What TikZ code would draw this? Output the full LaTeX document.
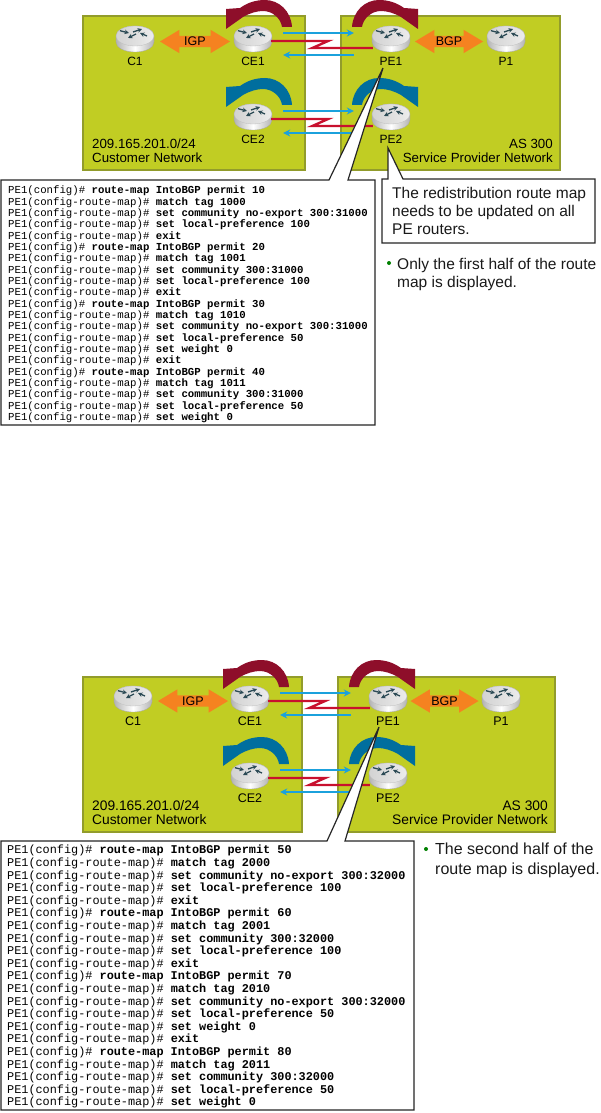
\documentclass[tikz,border=0pt]{standalone}
\usepackage{fontspec}
\setmainfont{Liberation Sans}
\setmonofont{Liberation Mono}
\usepackage{tikz}
\usetikzlibrary{shapes.arrows,arrows.meta,calc}

\definecolor{netolive}{HTML}{C1CD23}
\definecolor{netedge}{HTML}{929C2B}
\definecolor{netorange}{HTML}{F58220}
\definecolor{swirlred}{HTML}{8E0E2A}
\definecolor{swirlblue}{HTML}{006E9E}
\definecolor{linkred}{HTML}{C8102E}
\definecolor{linkblue}{HTML}{1BA1DC}
\definecolor{routerarrow}{HTML}{2B4A55}

% one router: invisible box to connect to, cylinder, arrows on top, caption
\newcommand{\router}[4]{
    \node[routerbox] (#1) at (#2) {};
    \begin{scope}[shift={(#1.center)}]
        \path[left color=gray!60, right color=gray!60, middle color=white, draw=gray!70, line width=0.3pt]
            (-19,-3) -- (-19,3) .. controls (-19,9) and (-10,13) .. (0,13) .. controls (10,13) and (19,9) .. (19,3)
            -- (19,-3) .. controls (19,-9) and (10,-13) .. (0,-13) .. controls (-10,-13) and (-19,-9) .. (-19,-3) -- cycle;
        \path[left color=gray!35, right color=gray!15, draw=gray!50, line width=0.3pt] (0,-3) ellipse [x radius=19pt, y radius=10pt];
        \draw[routertip] (-15,-8.3) -- (-6,-6);
        \draw[routertip] (-2,-7) -- (7,-10);
        \draw[routertip] (12,-3) -- (5,-6);
        \draw[routertip] (1,-5) -- (-7,-1);
    \end{scope}
    \node[#4] (#1lbl) at ($(#1)+(0,22)$) {#3};
}
% the thick bent arrow over a router; #2 is 1 for left, -1 for right
\newcommand{\swirl}[3]{
    \fill[#3, shift={(#1.center)}, xscale=#2] (39,-12) .. controls (38,-28) and (26,-39) .. (12,-39)
        .. controls (2,-39) and (-6,-36) .. (-13,-31) -- (-27,-30) -- (-27,-10) -- (-10,-22)
        .. controls (-3,-26) and (4,-28) .. (10,-28) .. controls (20,-28) and (28,-20) .. (29,-12) -- cycle;
}
\newcommand{\pc}{PE1(config)\# }
\newcommand{\pr}{PE1(config-route-map)\# }

\begin{document}
\begin{tikzpicture}[
    x=1pt, y=-1pt,
    netbox/.style={draw=netedge, line width=1.2pt, fill=netolive},
    routerbox/.style={rectangle, minimum width=38pt, minimum height=26pt, inner sep=0pt},
    routertip/.style={-{Stealth[length=4.5pt,width=4.5pt]}, line width=1.3pt, draw=routerarrow},
    lbltop/.style={font=\fontsize{12}{12}\selectfont, inner sep=0pt},
    lblbot/.style={font=\fontsize{12.5}{12.5}\selectfont, inner sep=0pt},
    proto/.style={double arrow, fill=netorange, inner sep=1pt, double arrow tip angle=62, double arrow head extend=6pt, minimum width=23pt, font=\fontsize{12.5}{12.5}\selectfont},
    bluelink/.style={-{Stealth[length=7pt,width=7pt]}, line width=1.8pt, draw=linkblue},
    redlink/.style={line width=2.3pt, draw=linkred},
    callout/.style={draw=black!85, line width=1.2pt, fill=white},
    code/.style={align=left, anchor=north west, inner sep=0pt},
    blurb/.style={align=left, anchor=north west, inner sep=0pt, text=black!90},
    dot/.style={circle, fill=green!50!black, inner sep=0pt, minimum size=4pt}
]
\useasboundingbox (0,0) rectangle (601,1113);

% TOP: first half of the route map
\draw[netbox] (83,16) rectangle (305,170);
\draw[netbox] (341,16) rectangle (560,170);
\node[lbltop, font=\fontsize{13.3}{14}\selectfont, align=left, anchor=south west] (custtop) at (92,163) {209.165.201.0/24\\Customer Network};
\node[lbltop, font=\fontsize{13.3}{14}\selectfont, align=right, anchor=south east] (sptop) at (553,163) {AS 300\\Service Provider Network};

\router{ca}{135,39}{C1}{lbltop}
\router{cea}{253,39}{CE1}{lbltop}
\router{ceb}{253,117}{CE2}{lbltop}
\router{pea}{391,39}{PE1}{lbltop}
\router{pa}{506,39}{P1}{lbltop}
\router{peb}{391,117}{PE2}{lbltop}

\swirl{cea}{1}{swirlred}
\swirl{ceb}{1}{swirlblue}
\swirl{pea}{-1}{swirlred}
\swirl{peb}{-1}{swirlblue}

\node[proto, minimum height=70pt] (igptop) at ($(ca)!.5!(cea)+(1,2.5)$) {IGP};
\node[proto, minimum height=68pt] (bgptop) at ($(pea)!.5!(pa)+(.5,2.5)$) {BGP};

\foreach \src/\dst in {cea/pea, ceb/peb} {
    \coordinate (\src out) at ($(\src.east)+(11,-6)$);
    \coordinate (\src in) at ($(\src.east)+(11,16)$);
    \coordinate (\dst in) at ($(\dst.west)+(-18,-6)$);
    \coordinate (\dst out) at ($(\dst.west)+(-18,16)$);
    \draw[bluelink] (\src out) -- (\dst in);
    \draw[bluelink] (\dst out) -- (\src in);
    \draw[redlink] ($(\src.east)+(-1,2)$) -- ++(57,0) -- ++(-16,7) -- ($(\dst.west)+(1,9)$);
}

\coordinate (tipcode) at (383,68);
\draw[callout] (1,180) -- (329,180) -- (tipcode) -- (348,180) -- (375,180) -- (375,425) -- (1,425) -- cycle;
\node[code, font=\ttfamily\fontsize{10.7}{11.33}\selectfont] (codetop) at (8,186) {
\pc\textbf{route-map IntoBGP permit 10}\\
\pr\textbf{match tag 1000}\\
\pr\textbf{set community no-export 300:31000}\\
\pr\textbf{set local-preference 100}\\
\pr\textbf{exit}\\
\pc\textbf{route-map IntoBGP permit 20}\\
\pr\textbf{match tag 1001}\\
\pr\textbf{set community 300:31000}\\
\pr\textbf{set local-preference 100}\\
\pr\textbf{exit}\\
\pc\textbf{route-map IntoBGP permit 30}\\
\pr\textbf{match tag 1010}\\
\pr\textbf{set community no-export 300:31000}\\
\pr\textbf{set local-preference 50}\\
\pr\textbf{set weight 0}\\
\pr\textbf{exit}\\
\pc\textbf{route-map IntoBGP permit 40}\\
\pr\textbf{match tag 1011}\\
\pr\textbf{set community 300:31000}\\
\pr\textbf{set local-preference 50}\\
\pr\textbf{set weight 0}};

\coordinate (tipnote) at (388,148);
\draw[callout] (382,179) -- (388,179) -- (tipnote) -- (403,179) -- (595,179) -- (595,243) -- (382,243) -- cycle;
\node[blurb, font=\fontsize{15.5}{18}\selectfont] (notetop) at (392,187) {The redistribution route map\\needs to be updated on all\\PE routers.};
\node[dot] (dottop) at (389,263) {};
\node[blurb, font=\fontsize{15.5}{18}\selectfont] (halftop) at (397,258) {Only the first half of the route\\map is displayed.};

% BOTTOM: second half of the route map
\draw[netbox] (83,677) rectangle (302,832);
\draw[netbox] (338,677) rectangle (555,832);
\node[lblbot, font=\fontsize{13.8}{14}\selectfont, align=left, anchor=south west] (custbot) at (92,825) {209.165.201.0/24\\Customer Network};
\node[lblbot, font=\fontsize{13.8}{14}\selectfont, align=right, anchor=south east] (spbot) at (548,825) {AS 300\\Service Provider Network};

\router{cc}{133,699}{C1}{lblbot}
\router{cec}{250,699}{CE1}{lblbot}
\router{ced}{250,776}{CE2}{lblbot}
\router{pec}{388,699}{PE1}{lblbot}
\router{pc}{501,699}{P1}{lblbot}
\router{ped}{388,776}{PE2}{lblbot}

\swirl{cec}{1}{swirlred}
\swirl{ced}{1}{swirlblue}
\swirl{pec}{-1}{swirlred}
\swirl{ped}{-1}{swirlblue}

\node[proto, minimum height=70pt] (igpbot) at ($(cc)!.5!(cec)+(1.5,2)$) {IGP};
\node[proto, minimum height=68pt] (bgpbot) at ($(pec)!.5!(pc)+(0,2)$) {BGP};

\foreach \src/\dst in {cec/pec, ced/ped} {
    \coordinate (\src out) at ($(\src.east)+(11,-6)$);
    \coordinate (\src in) at ($(\src.east)+(11,16)$);
    \coordinate (\dst in) at ($(\dst.west)+(-18,-6)$);
    \coordinate (\dst out) at ($(\dst.west)+(-18,16)$);
    \draw[bluelink] (\src out) -- (\dst in);
    \draw[bluelink] (\dst out) -- (\src in);
    \draw[redlink] ($(\src.east)+(-1,2)$) -- ++(57,0) -- ++(-16,7) -- ($(\dst.west)+(1,9)$);
}

\coordinate (tipcodeb) at (379,727);
\draw[callout] (1,841) -- (327,841) -- (tipcodeb) -- (345,841) -- (414,841) -- (414,1110) -- (1,1110) -- cycle;
\node[code, font=\ttfamily\fontsize{11.85}{12.6}\selectfont] (codebot) at (7,845) {
\pc\textbf{route-map IntoBGP permit 50}\\
\pr\textbf{match tag 2000}\\
\pr\textbf{set community no-export 300:32000}\\
\pr\textbf{set local-preference 100}\\
\pr\textbf{exit}\\
\pc\textbf{route-map IntoBGP permit 60}\\
\pr\textbf{match tag 2001}\\
\pr\textbf{set community 300:32000}\\
\pr\textbf{set local-preference 100}\\
\pr\textbf{exit}\\
\pc\textbf{route-map IntoBGP permit 70}\\
\pr\textbf{match tag 2010}\\
\pr\textbf{set community no-export 300:32000}\\
\pr\textbf{set local-preference 50}\\
\pr\textbf{set weight 0}\\
\pr\textbf{exit}\\
\pc\textbf{route-map IntoBGP permit 80}\\
\pr\textbf{match tag 2011}\\
\pr\textbf{set community 300:32000}\\
\pr\textbf{set local-preference 50}\\
\pr\textbf{set weight 0}};

\node[dot] (dotbot) at (426,849) {};
\node[blurb, font=\fontsize{16}{20}\selectfont] (halfbot) at (435,843) {The second half of the\\route map is displayed.};

\end{tikzpicture}
\end{document}
